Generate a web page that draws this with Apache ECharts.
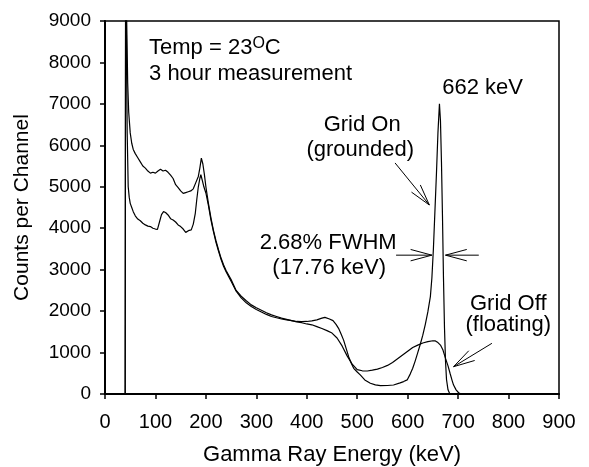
<!DOCTYPE html>
<html>
<head>
<meta charset="utf-8">
<script src="https://cdn.jsdelivr.net/npm/echarts@6/dist/echarts.min.js"></script>
<style>
html,body{margin:0;padding:0;background:#fff;}
#chart{width:589px;height:467px;}
</style>
</head>
<body>
<div id="chart"></div>
<script>
// ---- Data ----
const xTicks = [0,100,200,300,400,500,600,700,800,900];
const yTicks = [0,1000,2000,3000,4000,5000,6000,7000,8000,9000];

// Grid Off (floating) spectrum
const energyOff = [40,41,43,45,47,50,53,56,60,65,70,75,80,85,90,95,100,105,110,115,120,125,130,135,140,145,150,155,160,165,170,175,180,185,188,191,194,197,200,205,210,215,220,225,230,235,240,250,260,270,280,290,300,310,320,330,340,350,360,370,380,390,400,410,420,430,440,450,460,470,480,490,500,510,520,530,540,550,560,570,580,590,600,610,620,630,640,650,655,660,665,670,675,680,684,688,691,696,701,706];
const countsOff = [0,12000,9000,7500,6800,6300,6050,5900,5800,5700,5600,5500,5450,5380,5330,5350,5330,5380,5420,5380,5400,5350,5280,5200,5050,4980,4900,4840,4860,4880,4900,4950,5100,5250,5450,5690,5550,5300,5000,4600,4250,3950,3700,3480,3280,3120,2980,2760,2500,2360,2250,2150,2080,2020,1960,1910,1870,1830,1800,1770,1740,1720,1690,1670,1625,1580,1530,1470,1350,1160,920,720,590,560,555,575,600,640,690,760,850,940,1030,1120,1180,1230,1265,1285,1280,1240,1180,1060,860,680,500,330,215,100,30,0];

// Grid On (grounded) spectrum
const energyOn = [40,41,42,43,44,46,48,50,53,56,60,65,70,75,80,85,90,95,100,104,108,112,116,120,125,130,135,140,145,150,155,160,163,167,171,175,179,182,185,188,190,193,196,200,205,210,215,220,225,230,235,240,250,260,270,280,290,300,310,320,330,340,350,360,370,380,390,400,410,420,430,436,445,452,458,463,468,473,478,483,488,493,500,506,515,526,536,546,560,572,585,592,599,605,610,615,620,625,630,635,640,645,648,651,654,657,660,663,665,667,669,671,673,675,677,680,683,686];
const countsOn = [0,12000,9500,7800,6300,5000,4750,4600,4500,4400,4300,4220,4180,4120,4080,4050,4040,4000,3980,3970,4150,4330,4400,4380,4320,4230,4200,4150,4080,4040,3980,3900,3880,3950,3960,4100,4360,4700,5000,5200,5290,5150,5000,4850,4550,4200,3920,3660,3450,3250,3080,2950,2720,2480,2320,2200,2110,2040,1980,1920,1870,1840,1810,1790,1770,1750,1745,1750,1765,1790,1830,1850,1810,1770,1680,1585,1450,1300,1100,900,750,620,530,460,340,260,220,200,205,217,270,300,340,480,620,800,1000,1200,1420,1680,1980,2350,2800,3500,4400,5300,6300,7000,6600,5600,4300,2800,1600,800,350,100,20,0];

// Annotation texts (anchored in data units)
const annotations = [
  {text: 'Temp = 23', sup: 'O', tail: 'C', x: 87.3, y: 8349, align: 'left'},
  {text: '3 hour measurement', x: 87.3, y: 7721, align: 'left'},
  {text: '662 keV', x: 668.5, y: 7383, align: 'left'},
  {text: 'Grid On', x: 509.8, y: 6491, align: 'center'},
  {text: '(grounded)', x: 505.9, y: 5887, align: 'center'},
  {text: '2.68% FWHM', x: 442.4, y: 3656, align: 'center'},
  {text: '(17.76 keV)', x: 444.4, y: 3052, align: 'center'},
  {text: 'Grid Off', x: 799.4, y: 2172, align: 'center'},
  {text: '(floating)', x: 799.4, y: 1665, align: 'center'}
];
// Arrows: [tailX, tailY, tipX, tipY] in data units
const arrows = [
  [575, 5575, 643, 4560],
  [577, 3350, 648, 3350],
  [741, 3350, 675, 3350],
  [767, 1223, 691, 659]
];

const FONT = "'Liberation Sans', Arial, sans-serif";
const zip = (xs, ys) => xs.map((x, i) => [x, ys[i]]);

const chart = echarts.init(document.getElementById('chart'), null, {renderer: 'canvas'});
const option = {
  animation: false,
  backgroundColor: '#fff',
  grid: {left: 105, right: 30, top: 21, bottom: 73, containLabel: false, outerBoundsMode: 'none',
         show: true, borderColor: '#000', borderWidth: 1.5, backgroundColor: 'transparent'},
  xAxis: {
    type: 'value', min: xTicks[0], max: xTicks[xTicks.length - 1], interval: 100,
    name: 'Gamma Ray Energy (keV)', nameLocation: 'middle', nameGap: 50,
    nameTextStyle: {color: '#000', fontSize: 22, fontFamily: FONT},
    axisLine: {show: true, lineStyle: {color: '#000', width: 2}},
    axisTick: {show: true, inside: false, length: 5, lineStyle: {color: '#000', width: 1.5}},
    axisLabel: {color: '#000', fontSize: 20, fontFamily: FONT, margin: 18, formatter: v => String(v)},
    splitLine: {show: false}
  },
  yAxis: {
    type: 'value', min: yTicks[0], max: yTicks[yTicks.length - 1], interval: 1000,
    name: 'Counts per Channel', nameLocation: 'middle', nameGap: 72, nameRotate: 90,
    nameTextStyle: {color: '#000', fontSize: 21, fontFamily: FONT},
    axisLine: {show: true, lineStyle: {color: '#000', width: 2}},
    axisTick: {show: true, inside: false, length: 5, lineStyle: {color: '#000', width: 1.5}},
    axisLabel: {color: '#000', fontSize: 19, fontFamily: FONT, margin: 14, formatter: v => String(v)},
    splitLine: {show: false}
  },
  series: [
    {name: 'Grid Off (floating)', type: 'line', data: zip(energyOff, countsOff), showSymbol: false, symbol: 'none', clip: true,
     lineStyle: {color: '#000', width: 1.2}},
    {name: 'Grid On (grounded)', type: 'line', data: zip(energyOn, countsOn), showSymbol: false, symbol: 'none', clip: true,
     lineStyle: {color: '#000', width: 1.2}}
  ]
};
chart.setOption(option);

function drawAnnotations() {
  const els = [];
  annotations.forEach(a => {
    const p = chart.convertToPixel({gridIndex: 0}, [a.x, a.y]);
    if (a.sup) {
      els.push({type: 'text', x: p[0], y: p[1], style: {
        text: '{n|' + a.text + '}{s|' + a.sup + '}{n|' + a.tail + '}',
        align: a.align, verticalAlign: 'middle',
        rich: {
          n: {fontSize: 22, fontFamily: FONT, fill: '#000'},
          s: {fontSize: 16, fontFamily: FONT, fill: '#000', padding: [0, 0, 8, 0]}
        }
      }});
    } else {
      els.push({type: 'text', x: p[0], y: p[1], style: {
        text: a.text, font: '22px ' + FONT, fill: '#000', align: a.align, verticalAlign: 'middle'
      }});
    }
  });
  const HEAD = 22, ANG = 15 * Math.PI / 180;
  arrows.forEach(ar => {
    const t = chart.convertToPixel({gridIndex: 0}, [ar[0], ar[1]]);
    const h = chart.convertToPixel({gridIndex: 0}, [ar[2], ar[3]]);
    const dir = Math.atan2(t[1] - h[1], t[0] - h[0]);
    const b1 = [h[0] + HEAD * Math.cos(dir + ANG), h[1] + HEAD * Math.sin(dir + ANG)];
    const b2 = [h[0] + HEAD * Math.cos(dir - ANG), h[1] + HEAD * Math.sin(dir - ANG)];
    els.push({type: 'polyline', shape: {points: [t, h]}, style: {stroke: '#000', lineWidth: 1, fill: null}});
    els.push({type: 'polyline', shape: {points: [b1, h, b2]}, style: {stroke: '#000', lineWidth: 1, fill: null}});
  });
  chart.setOption({graphic: els});
}
drawAnnotations();
</script>
</body>
</html>
